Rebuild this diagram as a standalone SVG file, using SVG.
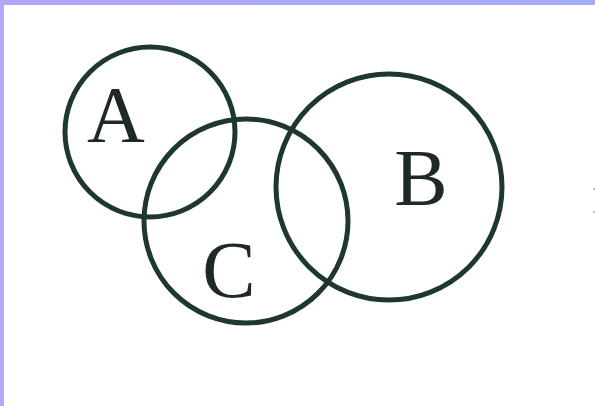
<svg xmlns="http://www.w3.org/2000/svg" width="595" height="406" viewBox="0 0 595 406">
<defs>
<linearGradient id="bar" x1="0" y1="0" x2="1" y2="0">
<stop offset="0" stop-color="#b4a6fc"/>
<stop offset="1" stop-color="#a4acf8"/>
</linearGradient>
<style>
.ring{fill:none;stroke:#1f382f;stroke-width:5}
.lbl{font-family:"Liberation Serif","Times New Roman",serif;font-size:80px;fill:#1f2a26;text-anchor:middle}
</style>
</defs>
<rect x="0" y="0" width="595" height="406" fill="#ffffff"/>
<rect x="0" y="0" width="595" height="5" fill="url(#bar)"/>
<rect x="0" y="0" width="4" height="406" fill="#b4a6fc"/>
<g id="A">
<circle class="ring" cx="150" cy="132" r="85"/>
<text class="lbl" x="116" y="142">A</text>
</g>
<g id="C">
<circle class="ring" cx="246" cy="221" r="102"/>
<text class="lbl" x="229" y="297">C</text>
</g>
<g id="B">
<circle class="ring" cx="389" cy="187" r="113"/>
<text class="lbl" x="421" y="205">B</text>
</g>
<g id="marks">
<rect x="593.5" y="188.5" width="1.2" height="1.2" fill="#555"/>
<rect x="593.5" y="211.5" width="1.2" height="1.2" fill="#555"/>
</g>
</svg>
